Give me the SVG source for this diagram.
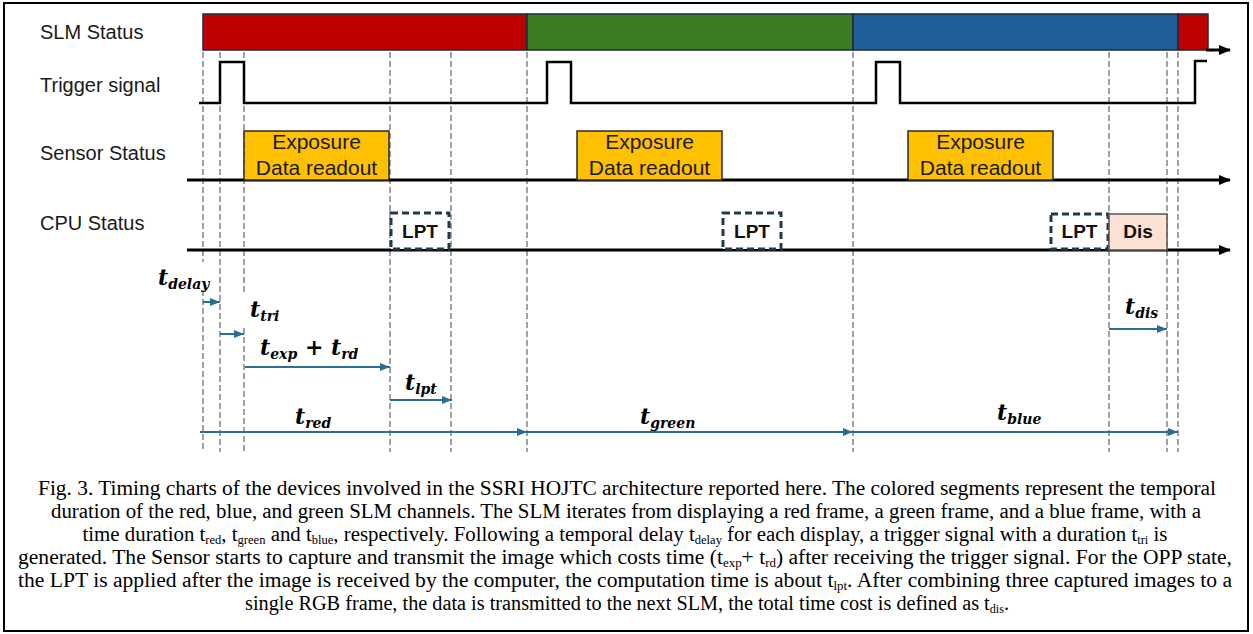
<svg xmlns="http://www.w3.org/2000/svg" width="1253" height="634" viewBox="0 0 1253 634">
  <defs>
    <style>
      .lbl { font-family: "Liberation Sans", Arial, sans-serif; font-size: 20px; fill: #1a1a1a; }
      .box-txt { font-family: "Liberation Sans", Arial, sans-serif; font-size: 21px; fill: #1a1a1a; text-anchor: middle; }
      .bold-txt { font-family: "Liberation Sans", Arial, sans-serif; font-size: 19px; font-weight: bold; fill: #111; text-anchor: middle; }
      .axis { stroke: #000; stroke-width: 3; fill: none; }
      .trig { stroke: #000; stroke-width: 2.5; fill: none; }
      .guide { stroke: #8a8a8a; stroke-width: 1.6; stroke-dasharray: 6 3; fill: none; }
      .span { stroke: #2b6e8f; stroke-width: 2; fill: none; }
      .math { font-family: "DejaVu Serif", "Liberation Serif", serif; font-style: italic; font-weight: bold; font-size: 22px; fill: #000; }
      .sub { font-size: 14px; }
      .cap { font-family: "Liberation Serif", "Times New Roman", serif; font-size: 20px; fill: #000; text-anchor: middle; }
      .cs { font-size: 12px; }
      .lpt { fill: #fff; stroke: #1f3a4a; stroke-width: 3; stroke-dasharray: 7 4; }
    </style>
    <marker id="axisHead" viewBox="0 0 12 10" refX="11" refY="5" markerWidth="12" markerHeight="10" markerUnits="userSpaceOnUse" orient="auto">
      <path d="M0,0 L12,5 L0,10 Z" fill="#000"/>
    </marker>
    <marker id="spanHead" viewBox="0 0 10 8" refX="10" refY="4" markerWidth="10" markerHeight="8" markerUnits="userSpaceOnUse" orient="auto">
      <path d="M0,0 L10,4 L0,8 Z" fill="#2b6e8f"/>
    </marker>
  </defs>

  <rect x="0" y="0" width="1253" height="634" fill="#fff"/>
  <rect x="4" y="3" width="1244" height="628" fill="none" stroke="#000" stroke-width="2"/>

  <!-- row labels -->
  <g id="row-labels">
    <text class="lbl" x="40" y="39">SLM Status</text>
    <text class="lbl" x="40" y="92">Trigger signal</text>
    <text class="lbl" x="40" y="160">Sensor Status</text>
    <text class="lbl" x="40" y="230">CPU Status</text>
  </g>

  <!-- vertical timing guides -->
  <g id="guides">
    <path class="guide" d="M203,52 V262 M203,290 V452"/>
    <path class="guide" d="M220,52 V452"/>
    <path class="guide" d="M244,52 V293 M244,328 V452"/>
    <path class="guide" d="M390,52 V452"/>
    <path class="guide" d="M451,52 V452"/>
    <path class="guide" d="M527,52 V452"/>
    <path class="guide" d="M853,52 V452"/>
    <path class="guide" d="M1109,52 V452"/>
    <path class="guide" d="M1167,52 V452"/>
    <path class="guide" d="M1178,52 V452"/>
  </g>

  <!-- SLM colour frames -->
  <g id="slm-frames" stroke="#1b2b3a" stroke-width="1.5">
    <rect id="slm-red" x="203" y="14" width="324" height="36" fill="#c00000"/>
    <rect id="slm-green" x="527" y="14" width="326" height="36" fill="#3b7d23"/>
    <rect id="slm-blue" x="853" y="14" width="325" height="36" fill="#215f9a"/>
    <rect id="slm-red-next" x="1178" y="14" width="30" height="36" fill="#c00000"/>
  </g>

  <!-- axes and trigger waveform -->
  <g id="connectors">
    <path class="axis" d="M1206,50 H1230" marker-end="url(#axisHead)"/>
    <path class="trig" d="M199,103 H220 V62 H244 V103 H547 V62 H571 V103 H876 V62 H900 V103 H1195 V61 H1207"/>
    <path class="axis" d="M187,180 H1230" marker-end="url(#axisHead)"/>
    <path class="axis" d="M187,250 H1230" marker-end="url(#axisHead)"/>

    <path class="span" d="M203,302 H220" marker-end="url(#spanHead)"/>
    <path class="span" d="M220,334 H244" marker-end="url(#spanHead)"/>
    <path class="span" d="M245,367 H390" marker-end="url(#spanHead)"/>
    <path class="span" d="M390,400 H452" marker-end="url(#spanHead)"/>
    <path class="span" d="M200,432 H527" marker-end="url(#spanHead)"/>
    <path class="span" d="M527,432 H853" marker-end="url(#spanHead)"/>
    <path class="span" d="M853,432 H1178" marker-end="url(#spanHead)"/>
    <path class="span" d="M1109,329 H1167" marker-end="url(#spanHead)"/>
  </g>

  <!-- sensor exposure blocks -->
  <g id="sensor-1">
    <rect x="244" y="131" width="145" height="49" fill="#ffc000" stroke="#2a2a2a" stroke-width="1.5"/>
    <text class="box-txt" x="316.5" y="149">Exposure</text>
    <text class="box-txt" x="316.5" y="175">Data readout</text>
  </g>
  <g id="sensor-2">
    <rect x="577" y="131" width="145" height="49" fill="#ffc000" stroke="#2a2a2a" stroke-width="1.5"/>
    <text class="box-txt" x="649.5" y="149">Exposure</text>
    <text class="box-txt" x="649.5" y="175">Data readout</text>
  </g>
  <g id="sensor-3">
    <rect x="908" y="131" width="145" height="49" fill="#ffc000" stroke="#2a2a2a" stroke-width="1.5"/>
    <text class="box-txt" x="980.5" y="149">Exposure</text>
    <text class="box-txt" x="980.5" y="175">Data readout</text>
  </g>

  <!-- CPU blocks -->
  <g id="cpu-lpt-1">
    <rect class="lpt" x="391" y="213" width="58" height="36"/>
    <text class="bold-txt" x="420" y="238">LPT</text>
  </g>
  <g id="cpu-lpt-2">
    <rect class="lpt" x="723" y="213" width="58" height="36"/>
    <text class="bold-txt" x="752" y="238">LPT</text>
  </g>
  <g id="cpu-lpt-3">
    <rect class="lpt" x="1051" y="214" width="57" height="35"/>
    <text class="bold-txt" x="1079.5" y="238">LPT</text>
  </g>
  <g id="cpu-dis">
    <rect x="1109" y="214" width="58" height="36" fill="#fbe2d5" stroke="#555" stroke-width="1.5"/>
    <text class="bold-txt" x="1138" y="238">Dis</text>
  </g>

  <!-- duration labels -->
  <g id="durations">
    <text class="math" x="158" y="285">t<tspan class="sub" dy="4">delay</tspan></text>
    <text class="math" x="250" y="317">t<tspan class="sub" dy="4">tri</tspan></text>
    <text class="math" x="260" y="355">t<tspan class="sub" dy="4">exp</tspan><tspan dy="-4"> + t</tspan><tspan class="sub" dy="4">rd</tspan></text>
    <text class="math" x="405" y="390">t<tspan class="sub" dy="4">lpt</tspan></text>
    <text class="math" x="295" y="424">t<tspan class="sub" dy="4">red</tspan></text>
    <text class="math" x="640" y="424">t<tspan class="sub" dy="4">green</tspan></text>
    <text class="math" x="997" y="420">t<tspan class="sub" dy="4">blue</tspan></text>
    <text class="math" x="1125" y="314">t<tspan class="sub" dy="4">dis</tspan></text>
  </g>

  <!-- caption, each line fitted to its measure -->
  <g id="caption">
    <text class="cap" x="627" y="495" textLength="1178" lengthAdjust="spacingAndGlyphs">Fig. 3. Timing charts of the devices involved in the SSRI HOJTC architecture reported here. The colored segments represent the temporal</text>
    <text class="cap" x="626" y="518" textLength="1150" lengthAdjust="spacingAndGlyphs">duration of the red, blue, and green SLM channels. The SLM iterates from displaying a red frame, a green frame, and a blue frame, with a</text>
    <text class="cap" x="625" y="541" textLength="1085" lengthAdjust="spacingAndGlyphs">time duration t<tspan class="cs" dy="3">red</tspan><tspan dy="-3">, t</tspan><tspan class="cs" dy="3">green</tspan><tspan dy="-3"> and t</tspan><tspan class="cs" dy="3">blue</tspan><tspan dy="-3">, respectively. Following a temporal delay t</tspan><tspan class="cs" dy="3">delay</tspan><tspan dy="-3"> for each display, a trigger signal with a duration t</tspan><tspan class="cs" dy="3">tri</tspan><tspan dy="-3"> is</tspan></text>
    <text class="cap" x="625" y="564" textLength="1214" lengthAdjust="spacingAndGlyphs">generated. The Sensor starts to capture and transmit the image which costs time (t<tspan class="cs" dy="3">exp</tspan><tspan dy="-3">+ t</tspan><tspan class="cs" dy="3">rd</tspan><tspan dy="-3">) after receiving the trigger signal. For the OPP state,</tspan></text>
    <text class="cap" x="625" y="587" textLength="1214" lengthAdjust="spacingAndGlyphs">the LPT is applied after the image is received by the computer, the computation time is about t<tspan class="cs" dy="3">lpt</tspan><tspan dy="-3">. After combining three captured images to a</tspan></text>
    <text class="cap" x="627" y="610" textLength="764" lengthAdjust="spacingAndGlyphs">single RGB frame, the data is transmitted to the next SLM, the total time cost is defined as t<tspan class="cs" dy="3">dis</tspan><tspan dy="-3">.</tspan></text>
  </g>
</svg>
